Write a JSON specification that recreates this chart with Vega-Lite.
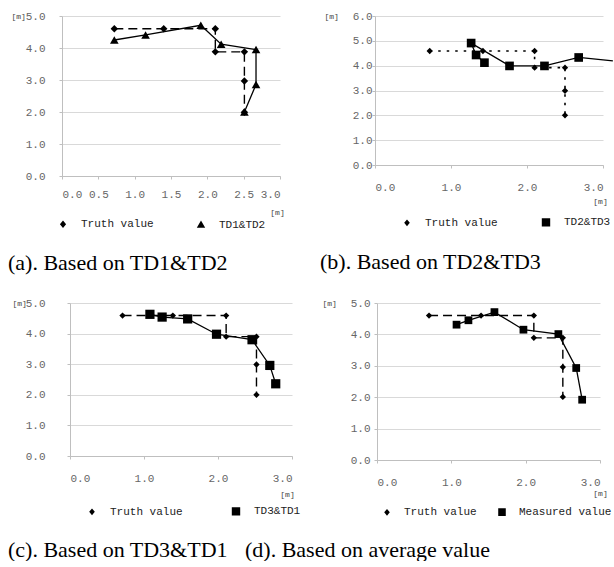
{
  "$schema": "https://vega.github.io/schema/vega-lite/v6.json",
  "padding": {"left": 8, "top": 10, "right": 0, "bottom": 0},
  "datasets": {
    "a": [
      {"s": "Truth value", "x": 0.72, "y": 4.6, "i": 1},
      {"s": "Truth value", "x": 1.4, "y": 4.6, "i": 2},
      {"s": "Truth value", "x": 2.11, "y": 4.6, "i": 3},
      {"s": "Truth value", "x": 2.11, "y": 3.88, "i": 4},
      {"s": "Truth value", "x": 2.51, "y": 3.88, "i": 5},
      {"s": "Truth value", "x": 2.51, "y": 2.97, "i": 6},
      {"s": "Truth value", "x": 2.51, "y": 1.99, "i": 7},
      {"s": "TD1&TD2", "x": 0.72, "y": 4.25, "i": 1},
      {"s": "TD1&TD2", "x": 1.15, "y": 4.41, "i": 2},
      {"s": "TD1&TD2", "x": 1.91, "y": 4.71, "i": 3},
      {"s": "TD1&TD2", "x": 2.19, "y": 4.12, "i": 4},
      {"s": "TD1&TD2", "x": 2.67, "y": 3.95, "i": 5},
      {"s": "TD1&TD2", "x": 2.67, "y": 2.86, "i": 6},
      {"s": "TD1&TD2", "x": 2.51, "y": 2.0, "i": 7}
    ],
    "b": [
      {"s": "Truth value", "x": 0.72, "y": 4.59, "i": 1},
      {"s": "Truth value", "x": 1.42, "y": 4.59, "i": 2},
      {"s": "Truth value", "x": 2.1, "y": 4.59, "i": 3},
      {"s": "Truth value", "x": 2.1, "y": 3.92, "i": 4},
      {"s": "Truth value", "x": 2.5, "y": 3.92, "i": 5},
      {"s": "Truth value", "x": 2.5, "y": 2.99, "i": 6},
      {"s": "Truth value", "x": 2.5, "y": 2.0, "i": 7},
      {"s": "TD2&TD3", "x": 1.44, "y": 4.12, "i": 1},
      {"s": "TD2&TD3", "x": 1.33, "y": 4.43, "i": 2},
      {"s": "TD2&TD3", "x": 1.265, "y": 4.91, "i": 3},
      {"s": "TD2&TD3", "x": 1.77, "y": 3.99, "i": 4},
      {"s": "TD2&TD3", "x": 2.23, "y": 3.99, "i": 5},
      {"s": "TD2&TD3", "x": 2.68, "y": 4.33, "i": 6},
      {"s": "TD2&TD3", "x": 3.13, "y": 4.19, "i": 7}
    ],
    "c": [
      {"s": "Truth value", "x": 0.71, "y": 4.59, "i": 1},
      {"s": "Truth value", "x": 1.39, "y": 4.59, "i": 2},
      {"s": "Truth value", "x": 2.11, "y": 4.59, "i": 3},
      {"s": "Truth value", "x": 2.11, "y": 3.9, "i": 4},
      {"s": "Truth value", "x": 2.52, "y": 3.9, "i": 5},
      {"s": "Truth value", "x": 2.52, "y": 2.99, "i": 6},
      {"s": "Truth value", "x": 2.52, "y": 2.0, "i": 7},
      {"s": "TD3&TD1", "x": 1.08, "y": 4.63, "i": 1},
      {"s": "TD3&TD1", "x": 1.245, "y": 4.54, "i": 2},
      {"s": "TD3&TD1", "x": 1.59, "y": 4.48, "i": 3},
      {"s": "TD3&TD1", "x": 1.98, "y": 3.98, "i": 4},
      {"s": "TD3&TD1", "x": 2.46, "y": 3.8, "i": 5},
      {"s": "TD3&TD1", "x": 2.7, "y": 2.96, "i": 6},
      {"s": "TD3&TD1", "x": 2.78, "y": 2.36, "i": 7}
    ],
    "d": [
      {"s": "Truth value", "x": 0.7, "y": 4.6, "i": 1},
      {"s": "Truth value", "x": 1.4, "y": 4.6, "i": 2},
      {"s": "Truth value", "x": 2.11, "y": 4.6, "i": 3},
      {"s": "Truth value", "x": 2.11, "y": 3.89, "i": 4},
      {"s": "Truth value", "x": 2.5, "y": 3.89, "i": 5},
      {"s": "Truth value", "x": 2.5, "y": 2.96, "i": 6},
      {"s": "Truth value", "x": 2.5, "y": 2.01, "i": 7},
      {"s": "Measured value", "x": 1.07, "y": 4.31, "i": 1},
      {"s": "Measured value", "x": 1.23, "y": 4.45, "i": 2},
      {"s": "Measured value", "x": 1.58, "y": 4.71, "i": 3},
      {"s": "Measured value", "x": 1.97, "y": 4.15, "i": 4},
      {"s": "Measured value", "x": 2.44, "y": 4.01, "i": 5},
      {"s": "Measured value", "x": 2.68, "y": 2.93, "i": 6},
      {"s": "Measured value", "x": 2.76, "y": 1.92, "i": 7}
    ]
  },
  "vconcat": [
    {
      "hconcat": [
        {
          "width": 218, "height": 160,
          "data": {"name": "a"},
          "title": {"text": "(a). Based on TD1&TD2", "orient": "bottom", "anchor": "start", "frame": "group", "dx": -54, "offset": 22},
          "encoding": {
            "x": {"field": "x", "type": "quantitative", "scale": {"domain": [0, 3], "nice": false},
                  "axis": {"values": [0, 0.5, 1, 1.5, 2, 2.5, 3], "format": ".1f", "title": "[m]", "titleX": 215, "titleY": 36, "labelPadding": 9}},
            "y": {"field": "y", "type": "quantitative", "scale": {"domain": [0, 5], "nice": false},
                  "axis": {"values": [0, 1, 2, 3, 4, 5], "format": ".1f", "title": "[m]", "titleX": -51, "titleY": 0, "labelPadding": 14}}
          },
          "layer": [
            {"transform": [{"filter": "datum.s === 'Truth value'"}],
             "mark": {"type": "line", "color": "black", "strokeWidth": 1.4, "strokeDash": [9, 5]},
             "encoding": {"order": {"field": "i", "type": "quantitative"}}},
            {"transform": [{"filter": "datum.s !== 'Truth value'"}],
             "mark": {"type": "line", "color": "black", "strokeWidth": 1.3},
             "encoding": {"order": {"field": "i", "type": "quantitative"}}},
            {"transform": [{"filter": "datum.s !== 'Truth value'"}],
             "mark": {"type": "point", "filled": true, "color": "black", "opacity": 1, "size": 75, "shape": "triangle-up"}},
            {"transform": [{"filter": "datum.s === 'Truth value'"}],
             "mark": {"type": "point", "filled": true, "color": "black", "opacity": 1, "size": 55, "shape": "diamond"}},
            {"mark": {"type": "point", "fill": "black", "stroke": "black", "strokeWidth": 1.3, "opacity": 0},
             "encoding": {
               "shape": {"field": "s", "type": "nominal",
                 "scale": {"domain": ["Truth value", "TD1&TD2"], "range": ["M-1,0H-0.3M0.3,0H1M0,-0.27L0.22,0L0,0.27L-0.22,0Z", "M-1,0H1M0,-0.3L0.3,0.22L-0.3,0.22Z"]},
                 "legend": {"orient": "none", "legendX": -14, "legendY": 193, "direction": "horizontal", "title": null, "columnPadding": 30,
                   "symbolFillColor": "black", "symbolStrokeColor": "black", "symbolStrokeWidth": 1.3, "symbolOpacity": 1}}
             }}
          ]
        },
        {
          "width": 228, "height": 149,
          "data": {"name": "b"},
          "title": {"text": "(b). Based on TD2&TD3", "orient": "bottom", "anchor": "start", "frame": "group", "dx": -55, "offset": 22},
          "encoding": {
            "x": {"field": "x", "type": "quantitative", "scale": {"domain": [0, 3], "nice": false},
                  "axis": {"values": [0, 1, 2, 3], "format": ".1f", "title": "[m]", "titleX": 225, "titleY": 36, "labelPadding": 13}},
            "y": {"field": "y", "type": "quantitative", "scale": {"domain": [0, 6], "nice": false},
                  "axis": {"values": [0, 1, 2, 3, 4, 5, 6], "format": ".1f", "title": "[m]", "titleX": -51, "titleY": 0, "labelPadding": 0}}
          },
          "layer": [
            {"transform": [{"filter": "datum.s === 'Truth value'"}],
             "mark": {"type": "line", "color": "black", "strokeWidth": 1.6, "strokeDash": [2.5, 6]},
             "encoding": {"order": {"field": "i", "type": "quantitative"}}},
            {"transform": [{"filter": "datum.s !== 'Truth value'"}],
             "mark": {"type": "line", "color": "black", "strokeWidth": 1.3},
             "encoding": {"order": {"field": "i", "type": "quantitative"}}},
            {"transform": [{"filter": "datum.s === 'Truth value'"}],
             "mark": {"type": "point", "filled": true, "color": "black", "opacity": 1, "size": 40, "shape": "diamond"}},
            {"transform": [{"filter": "datum.s !== 'Truth value' && datum.x <= 3"}],
             "mark": {"type": "point", "filled": true, "color": "black", "opacity": 1, "size": 75, "shape": "square"}},
            {"mark": {"type": "point", "fill": "black", "stroke": "black", "strokeWidth": 1.5, "opacity": 0},
             "encoding": {
               "shape": {"field": "s", "type": "nominal",
                 "scale": {"domain": ["Truth value", "TD2&TD3"], "range": ["M-1,0H-0.88M-0.62,0H-0.5M0.4,0H0.52M0,-0.24L0.2,0L0,0.24L-0.2,0Z", "M-1,0H1M-0.3,-0.3H0.3V0.3H-0.3Z"]},
                 "legend": {"orient": "none", "legendX": 17, "legendY": 191, "direction": "horizontal", "title": null, "columnPadding": 31,
                   "symbolFillColor": "black", "symbolStrokeColor": "black", "symbolStrokeWidth": 1.5, "symbolOpacity": 1}}
             }}
          ]
        }
      ],
      "bounds": "flush", "spacing": 95,
      "resolve": {"scale": {"shape": "independent"}, "legend": {"shape": "independent"}}
    },
    {
      "hconcat": [
        {
          "width": 230, "height": 153,
          "data": {"name": "c"},
          "title": {"text": "(c). Based on TD3&TD1", "orient": "bottom", "anchor": "start", "frame": "group", "dx": -54, "offset": 21},
          "encoding": {
            "x": {"field": "x", "type": "quantitative", "scale": {"domain": [0, 3], "nice": false, "range": [8, 230]},
                  "axis": {"values": [0, 1, 2, 3], "format": ".1f", "title": "[m]", "titleX": 225, "titleY": 38, "labelPadding": 13}},
            "y": {"field": "y", "type": "quantitative", "scale": {"domain": [0, 5], "nice": false},
                  "axis": {"values": [0, 1, 2, 3, 4, 5], "format": ".1f", "title": "[m]", "titleX": -58, "titleY": 0, "labelPadding": 22, "offset": -8}}
          },
          "layer": [
            {"transform": [{"filter": "datum.s === 'Truth value'"}],
             "mark": {"type": "line", "color": "black", "strokeWidth": 1.4, "strokeDash": [9, 5]},
             "encoding": {"order": {"field": "i", "type": "quantitative"}}},
            {"transform": [{"filter": "datum.s !== 'Truth value'"}],
             "mark": {"type": "line", "color": "black", "strokeWidth": 1.3},
             "encoding": {"order": {"field": "i", "type": "quantitative"}}},
            {"transform": [{"filter": "datum.s === 'Truth value'"}],
             "mark": {"type": "point", "filled": true, "color": "black", "opacity": 1, "size": 40, "shape": "diamond"}},
            {"transform": [{"filter": "datum.s !== 'Truth value'"}],
             "mark": {"type": "point", "filled": true, "color": "black", "opacity": 1, "size": 85, "shape": "square"}},
            {"mark": {"type": "point", "fill": "black", "stroke": "black", "strokeWidth": 1.5, "opacity": 0},
             "encoding": {
               "shape": {"field": "s", "type": "nominal",
                 "scale": {"domain": ["Truth value", "TD3&TD1"], "range": ["M-1,0H-0.3M0.3,0H1M0,-0.24L0.2,0L0,0.24L-0.2,0Z", "M-1,0H1M-0.3,-0.3H0.3V0.3H-0.3Z"]},
                 "legend": {"orient": "none", "legendX": 15, "legendY": 193, "direction": "horizontal", "title": null, "columnPadding": 36,
                   "symbolFillColor": "black", "symbolStrokeColor": "black", "symbolStrokeWidth": 1.5, "symbolOpacity": 1}}
             }}
          ]
        },
        {
          "width": 223, "height": 157,
          "data": {"name": "d"},
          "title": {"text": "(d). Based on average value", "orient": "bottom", "anchor": "start", "frame": "group", "dx": -132, "offset": 21},
          "encoding": {
            "x": {"field": "x", "type": "quantitative", "scale": {"domain": [0, 3], "nice": false},
                  "axis": {"values": [0, 1, 2, 3], "format": ".1f", "title": "[m]", "titleX": 223, "titleY": 33, "labelPadding": 13}},
            "y": {"field": "y", "type": "quantitative", "scale": {"domain": [0, 5], "nice": false},
                  "axis": {"values": [0, 1, 2, 3, 4, 5], "format": ".1f", "title": "[m]", "titleX": -55, "titleY": 0, "labelPadding": 4}}
          },
          "layer": [
            {"transform": [{"filter": "datum.s === 'Truth value'"}],
             "mark": {"type": "line", "color": "black", "strokeWidth": 1.4, "strokeDash": [9, 5]},
             "encoding": {"order": {"field": "i", "type": "quantitative"}}},
            {"transform": [{"filter": "datum.s !== 'Truth value'"}],
             "mark": {"type": "line", "color": "black", "strokeWidth": 1.3},
             "encoding": {"order": {"field": "i", "type": "quantitative"}}},
            {"transform": [{"filter": "datum.s === 'Truth value'"}],
             "mark": {"type": "point", "filled": true, "color": "black", "opacity": 1, "size": 40, "shape": "diamond"}},
            {"transform": [{"filter": "datum.s !== 'Truth value'"}],
             "mark": {"type": "point", "filled": true, "color": "black", "opacity": 1, "size": 60, "shape": "square"}},
            {"mark": {"type": "point", "fill": "black", "stroke": "black", "strokeWidth": 1.5, "opacity": 0},
             "encoding": {
               "shape": {"field": "s", "type": "nominal",
                 "scale": {"domain": ["Truth value", "Measured value"], "range": ["M-1,0H-0.3M0.3,0H1M0,-0.24L0.2,0L0,0.24L-0.2,0Z", "M-1,0H1M-0.27,-0.27H0.27V0.27H-0.27Z"]},
                 "legend": {"orient": "none", "legendX": -5, "legendY": 194, "direction": "horizontal", "title": null, "columnPadding": 8, "labelOffset": 2,
                   "symbolFillColor": "black", "symbolStrokeColor": "black", "symbolStrokeWidth": 1.5, "symbolOpacity": 1}}
             }}
          ]
        }
      ],
      "bounds": "flush", "spacing": 85,
      "resolve": {"scale": {"shape": "independent"}, "legend": {"shape": "independent"}}
    }
  ],
  "spacing": 23,
  "resolve": {"scale": {"shape": "independent"}, "legend": {"shape": "independent"}},
  "config": {
    "view": {"stroke": null},
    "axis": {
      "labelFont": "Liberation Mono", "labelFontSize": 11, "labelColor": "#666666",
      "titleFont": "Liberation Mono", "titleFontSize": 8, "titleFontWeight": "normal", "titleColor": "#444444",
      "gridColor": "#d9d9d9", "gridWidth": 1, "domainColor": "#bfbfbf", "tickColor": "#bfbfbf", "tickSize": 3,
      "titleAngle": 0, "titleBaseline": "middle"
    },
    "axisX": {"grid": false, "titleAlign": "center"},
    "axisY": {"grid": true, "titleAlign": "left"},
    "legend": {
      "labelFont": "Liberation Mono", "labelFontSize": 11, "labelColor": "#222222", "labelOffset": 3,
      "symbolSize": 784, "padding": 0, "rowPadding": 0
    },
    "title": {"font": "Liberation Serif", "fontSize": 22, "fontWeight": "normal", "color": "black"}
  }
}
